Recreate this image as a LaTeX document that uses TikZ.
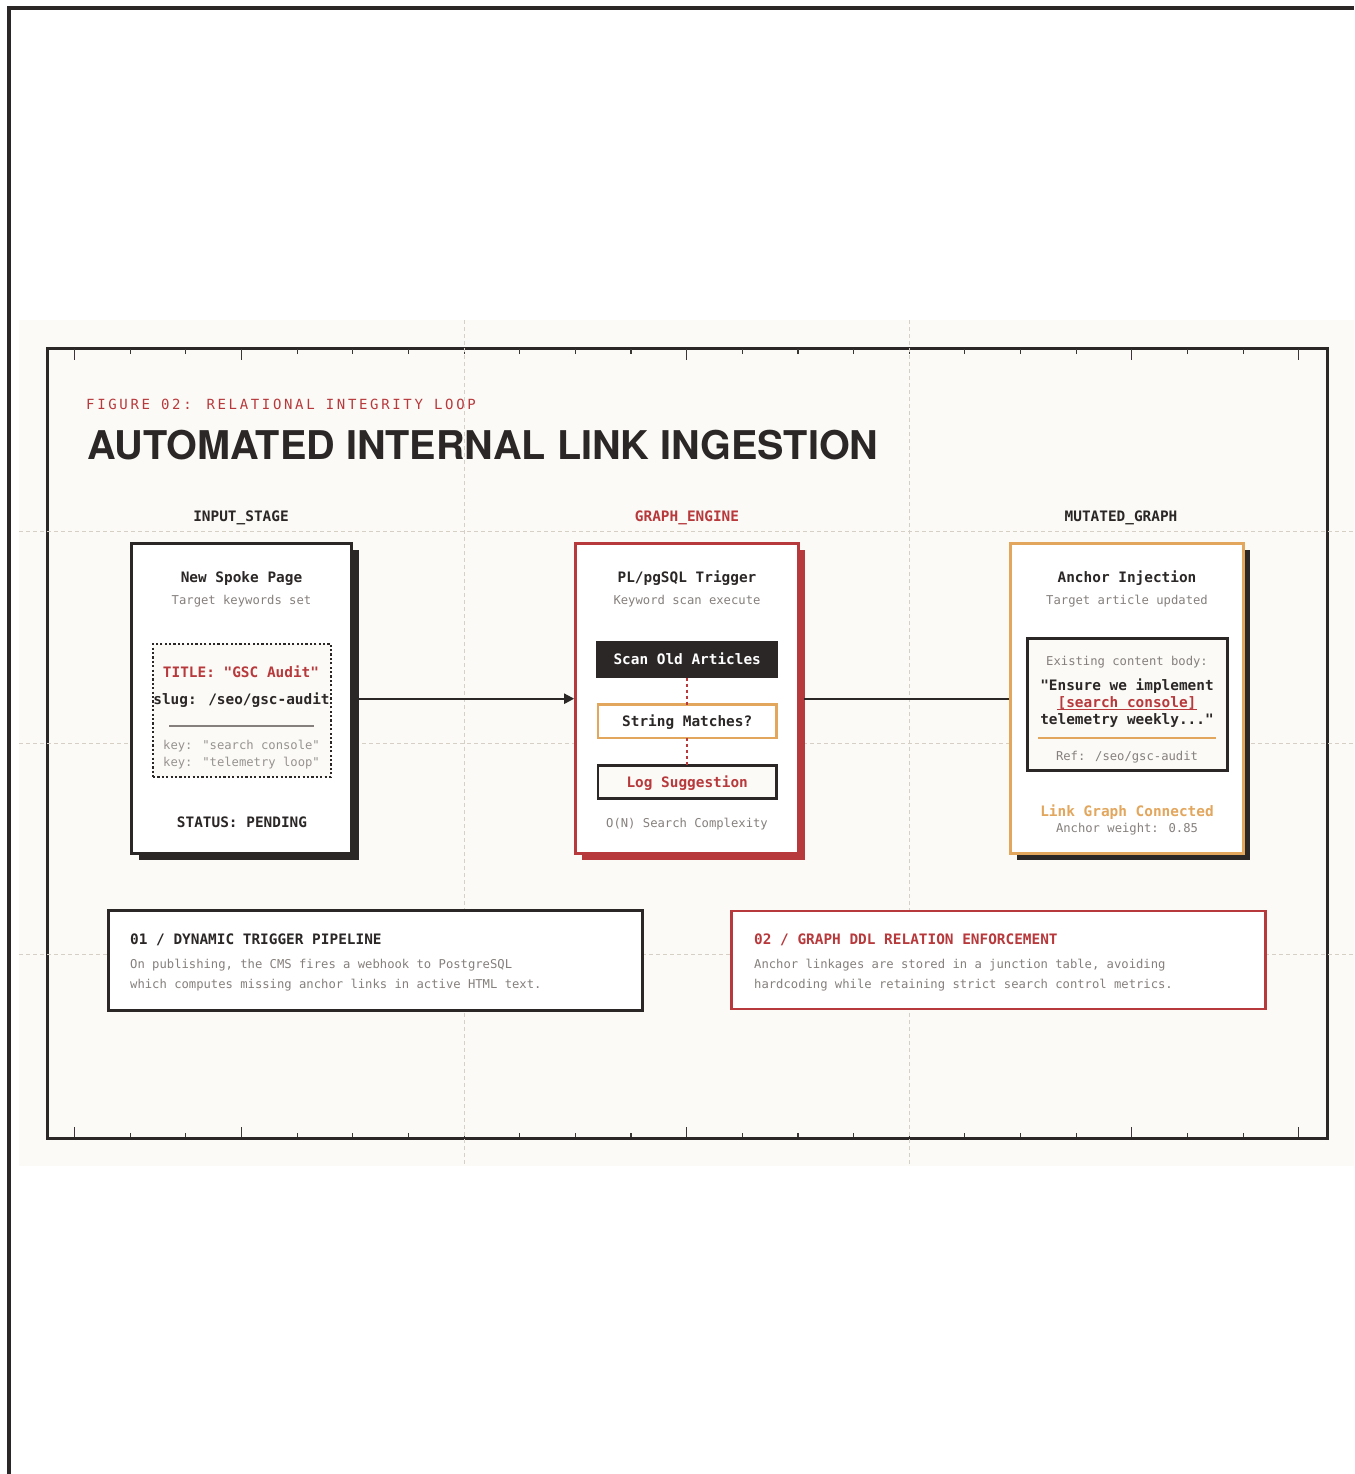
\documentclass[tikz,border=0pt]{standalone}
\usepackage{fontspec}
\setmainfont{TeX Gyre Heros}
\newfontfamily\mono{DejaVu Sans Mono}
\newfontfamily\figfont[LetterSpace=19]{DejaVu Sans Mono}
\newfontfamily\heros{TeX Gyre Heros}
\usetikzlibrary{arrows.meta,shadows}
\definecolor{ink}{HTML}{2B2727}
\definecolor{accent}{HTML}{B8393C}
\definecolor{amber}{HTML}{E2A65D}
\definecolor{muted}{HTML}{85807D}
\definecolor{paper}{HTML}{FBFAF6}
\definecolor{guidec}{HTML}{D6CFC6}
\definecolor{tickc}{HTML}{3A3636}
\tikzset{
  boldtxt/.style={font=\mono\bfseries\fontsize{14.4}{17}\selectfont, text=ink, inner sep=0pt, anchor=base},
  smalltxt/.style={font=\mono\fontsize{12.2}{15}\selectfont, text=muted, inner sep=0pt, anchor=base},
  guide/.style={draw=guidec, line width=0.9pt, dash pattern=on 4pt off 3pt},
  card/.style={draw=#1, line width=3pt, fill=white, inner sep=0pt, outer sep=0pt},
  subbox/.style={line width=2.5pt, inner sep=0pt, outer sep=0pt, minimum width=178.5pt, minimum height=33.3pt,
     font=\mono\bfseries\fontsize{14.4}{17}\selectfont, text height=11pt, text depth=1pt},
  tickmark/.style={draw=tickc, line width=1.1pt},
  conn/.style={draw=ink, line width=2pt},
  reddots/.style={draw=accent, line width=2pt, dash pattern=on 3pt off 3pt},
}
\begin{document}
\begin{tikzpicture}[x=1pt,y=-1pt]
\useasboundingbox (0,0) rectangle (1354,1474);
\fill[white] (0,0) rectangle (1354,1474);
% page edge
\draw[ink, line width=3.6pt, line join=miter] (9,1474) -- (9,8.2) -- (1354,8.2);
% panel
\fill[paper] (19,320) rectangle (1354,1166);
% frame
\node[draw=ink, line width=3pt, inner sep=0pt, outer sep=0pt, minimum width=1280.5pt, minimum height=790pt] (frame) at (687.25,743) {};
% ticks
\foreach \k in {0,...,22}{
  \draw[tickmark] ({74.5+55.65*\k},349) -- ++(0,4.5);
  \draw[tickmark] ({74.5+55.65*\k},1137) -- ++(0,-4.5);
}
\foreach \k in {0,3,11,19,22}{
  \draw[tickmark] ({74.5+55.65*\k},349) -- ++(0,10.5);
  \draw[tickmark] ({74.5+55.65*\k},1137) -- ++(0,-10);
}
% guides
\draw[guide] (464,320) -- (464,1166);
\draw[guide] (909,320) -- (909,1166);
\draw[guide] (19,531) -- (1354,531);
\draw[guide] (19,743) -- (1354,743);
\draw[guide] (19,954) -- (1354,954);

% headings
\node[anchor=base west, inner sep=0pt, text=accent, font=\figfont\fontsize{14}{16}\selectfont] (fig) at (86,409.3) {FIGURE 02: RELATIONAL INTEGRITY LOOP};
\node[anchor=base west, inner sep=0pt, text=ink, font=\heros\bfseries\fontsize{39.6}{44}\selectfont] (ttl) at (87,459.5) {AUTOMATED INTERNAL LINK INGESTION};
\node[boldtxt] (h1) at (241,521.3) {INPUT\_STAGE};
\node[boldtxt, text=accent] (h2) at (687,521.3) {GRAPH\_ENGINE};
\node[boldtxt] (h3) at (1121,521.3) {MUTATED\_GRAPH};

% cards
\node[card=ink, minimum width=220.3pt, minimum height=309.8pt,
  drop shadow={shadow xshift=8pt, shadow yshift=-6.5pt, fill=ink, opacity=1}] (c1) at (241.2,698.7) {};
\node[card=accent, minimum width=223pt, minimum height=310.4pt,
  drop shadow={shadow xshift=6pt, shadow yshift=-6pt, fill=accent, opacity=1}] (c2) at (687.2,698.7) {};
\node[card=amber, minimum width=233.4pt, minimum height=310.3pt,
  drop shadow={shadow xshift=6.5pt, shadow yshift=-6.2pt, fill=ink, opacity=1}] (c3) at (1127,698.7) {};

% card 1
\node[boldtxt] (t1a) at (241.5,582) {New Spoke Page};
\node[smalltxt] (t1b) at (241.5,604.5) {Target keywords set};
\node[draw=ink, line width=2.2pt, dash pattern=on 2.2pt off 2.2pt, fill=paper, inner sep=0pt, outer sep=0pt,
  minimum width=178pt, minimum height=133pt] (db) at (242,710.3) {};
\node[boldtxt, text=accent] (t1c) at (241,677) {TITLE: "GSC Audit"};
\node[boldtxt] (t1d) at (241.5,704) {slug: /seo/gsc-audit};
\draw[draw=muted, line width=1.3pt] (169,726) -- (314,726);
\node[smalltxt, text=muted!85] (t1e) at (241.5,749.5) {key: "search console"};
\node[smalltxt, text=muted!85] (t1f) at (241.5,766.5) {key: "telemetry loop"};
\node[boldtxt] (t1g) at (242,827) {STATUS: PENDING};

% card 2
\node[boldtxt] (t2a) at (687,582) {PL/pgSQL Trigger};
\node[smalltxt] (t2b) at (687,604.5) {Keyword scan execute};
\node[subbox, fill=ink, draw=ink, text=white, minimum width=181pt, minimum height=36pt, line width=0pt] (scan) at (687.2,659.7) {Scan Old Articles};
\node[subbox, draw=amber, fill=white, text=ink] (str) at (687.2,721.2) {String Matches?};
\node[subbox, draw=ink, fill=paper, text=accent, minimum height=33pt] (logs) at (687.2,782.2) {Log Suggestion};
\draw[reddots] (scan.south) -- (str.north);
\draw[reddots] (str.south) -- (logs.north);
\node[smalltxt] (t2c) at (687,827.5) {O(N) Search Complexity};

% card 3
\node[boldtxt] (t3a) at (1127,582) {Anchor Injection};
\node[smalltxt] (t3b) at (1127,604.5) {Target article updated};
\node[draw=ink, line width=3pt, fill=paper, inner sep=0pt, outer sep=0pt, minimum width=200pt, minimum height=132.6pt] (ib) at (1127.2,704.5) {};
\node[smalltxt] (t3c) at (1127,665.5) {Existing content body:};
\node[boldtxt] (t3d) at (1127,690) {"Ensure we implement};
\node[boldtxt, text=accent] (t3e) at (1127,707) {[search console]};
\draw[accent, line width=1.5pt] ([yshift=-2.6pt]t3e.base west) -- ([yshift=-2.6pt]t3e.base east);
\node[boldtxt] (t3f) at (1127,724) {telemetry weekly..."};
\draw[amber, line width=2pt] (1038,737.7) -- (1216,737.7);
\node[smalltxt] (t3g) at (1127,760.5) {Ref: /seo/gsc-audit};
\node[boldtxt, text=amber] (t3h) at (1127,816) {Link Graph Connected};
\node[smalltxt] (t3i) at (1127,832) {Anchor weight: 0.85};

% connectors
\draw[conn, -{Triangle[length=10pt,width=10pt]}, shorten >=1.5pt] (c1.east) -- (c2.west);
\draw[conn, shorten <=5pt, shorten >=1.5pt] (c2.east) -- (c3.west);

% notes
\node[draw=ink, line width=2.9pt, fill=white, inner sep=0pt, outer sep=0pt, minimum width=534.2pt, minimum height=99.3pt] (n1) at (375.4,960.4) {};
\node[boldtxt, anchor=base west] (n1a) at (130,944) {01 / DYNAMIC TRIGGER PIPELINE};
\node[smalltxt, anchor=base west] (n1b) at (130,968.5) {On publishing, the CMS fires a webhook to PostgreSQL};
\node[smalltxt, anchor=base west] (n1c) at (130,988.5) {which computes missing anchor links in active HTML text.};

\node[draw=accent, line width=2.9pt, fill=white, inner sep=0pt, outer sep=0pt, minimum width=533.9pt, minimum height=98pt] (n2) at (998.8,960) {};
\node[boldtxt, anchor=base west, text=accent] (n2a) at (754,944) {02 / GRAPH DDL RELATION ENFORCEMENT};
\node[smalltxt, anchor=base west] (n2b) at (754,968.5) {Anchor linkages are stored in a junction table, avoiding};
\node[smalltxt, anchor=base west] (n2c) at (754,988.5) {hardcoding while retaining strict search control metrics.};
\end{tikzpicture}
\end{document}
